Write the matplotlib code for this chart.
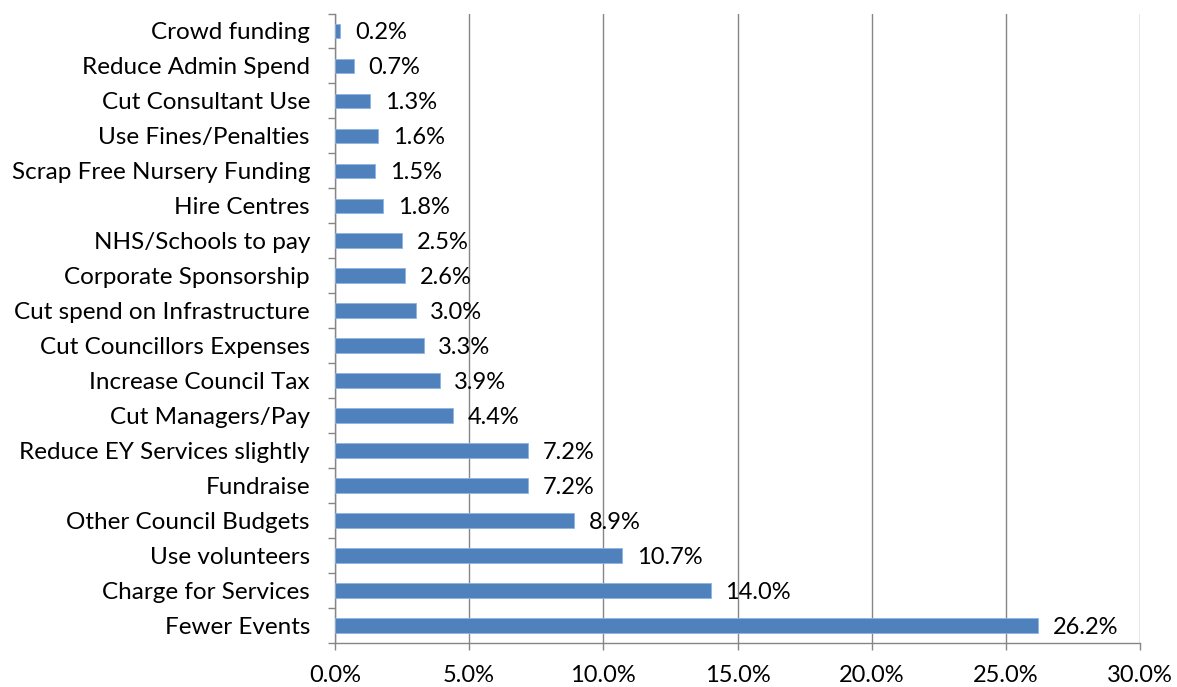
import matplotlib.pyplot as plt
import numpy as np

# categories, top to bottom as in the chart
categories = ["Crowd funding", "Reduce Admin Spend", "Cut Consultant Use",
              "Use Fines/Penalties", "Scrap Free Nursery Funding", "Hire Centres",
              "NHS/Schools to pay", "Corporate Sponsorship",
              "Cut spend on Infrastructure", "Cut Councillors Expenses",
              "Increase Council Tax", "Cut Managers/Pay",
              "Reduce EY Services slightly", "Fundraise", "Other Council Budgets",
              "Use volunteers", "Charge for Services", "Fewer Events"]
values = [0.2, 0.7, 1.3, 1.6, 1.5, 1.8, 2.5, 2.6, 3.0, 3.3, 3.9, 4.4,
          7.2, 7.2, 8.9, 10.7, 14.0, 26.2]
xticks = [0, 5, 10, 15, 20, 25, 30]

plt.rcParams['font.family'] = ['Lato', 'DejaVu Sans']

fig = plt.figure(figsize=(11.77, 6.87), dpi=100)
ax = fig.add_axes([335/1177, 1-643/687, (1140-335)/1177, (643-13.5)/687])

n = len(categories)
ypos = np.arange(n)[::-1]
ax.barh(ypos, values, height=0.42, color='#4F81BD', edgecolor='#8EB4E3',
        linewidth=0.6, zorder=3)
for y, v in zip(ypos, values):
    ax.text(v + 0.55, y - 0.05, f"{v:.1f}%", va='center', ha='left',
            fontsize=17, color='black', zorder=4)

ax.set_xlim(0, 30)
ax.set_ylim(-0.5, n - 0.5)
ax.set_xticks(xticks)
ax.set_xticklabels([f"{t:.1f}%" for t in xticks], fontsize=17)
ax.set_yticks(ypos)
ax.set_yticklabels(categories, fontsize=17.5)
ax.set_yticks(np.arange(-0.5, n, 1), minor=True)
ax.tick_params(axis='y', which='major', length=0, pad=18)
ax.tick_params(axis='y', which='minor', length=5, color='#868686', width=1)
ax.tick_params(axis='x', length=5, color='#868686', width=1, pad=11)
ax.grid(axis='x', color='#868686', linewidth=1, zorder=0)
for s in ['top', 'right']:
    ax.spines[s].set_visible(False)
for s in ['left', 'bottom']:
    ax.spines[s].set_color('#868686')
    ax.spines[s].set_linewidth(1)

fig.savefig('out.png', dpi=100)
